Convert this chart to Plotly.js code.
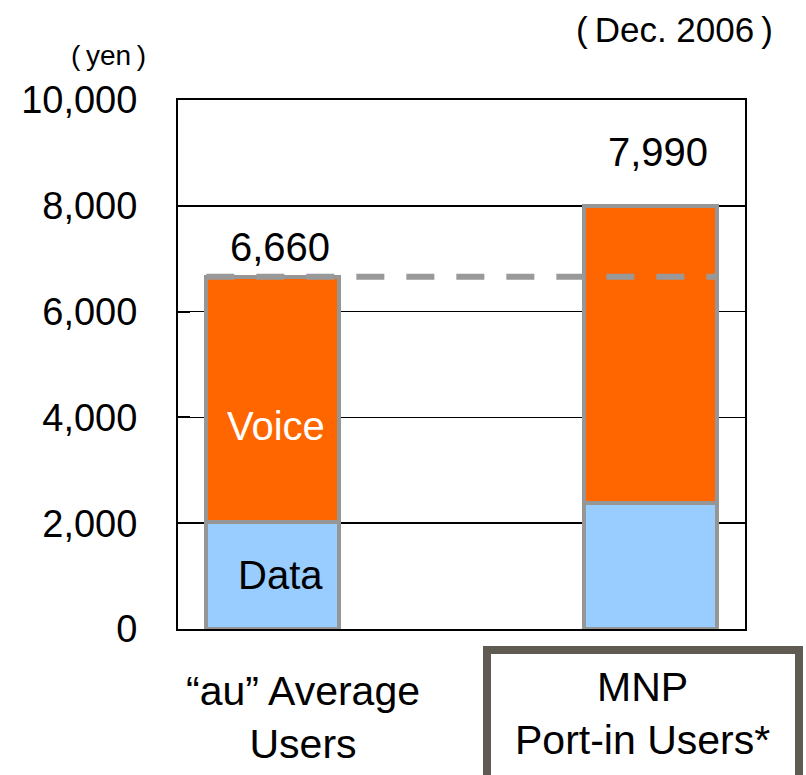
<!DOCTYPE html>
<html>
<head>
<meta charset="utf-8">
<script src="https://cdn.plot.ly/plotly-3.0.1.min.js"></script>
<style>
html,body{margin:0;padding:0;background:#fff;}
#chart{width:806px;height:775px;}
</style>
</head>
<body>
<div id="chart"></div>
<script>
// ---- data ----
const categories = ["\u201Cau\u201D Average<br>Users", "MNP<br>Port-in Users*"];
const dataValues = [2030, 2380];
const voiceValues = [4630, 5610];
const totalLabels = ["6,660", "7,990"];
const yTickVals = [0, 2000, 4000, 6000, 8000, 10000];
const yTickText = ["0", "2,000", "4,000", "6,000", "8,000", "10,000"];

// ---- layout geometry ----
const W = 806, H = 775;
const M = {l: 178, r: 61, t: 100, b: 146};
const PW = W - M.l - M.r, PH = H - M.t - M.b;
const px2x = p => (p - M.l) / PW;
const py2y = p => (H - M.b - p) / PH;

const FONT = "Liberation Sans, Arial, sans-serif";
const barWidth = 0.35;
const xs = categories.map((c, i) => i);
const totals = dataValues.map((d, i) => d + voiceValues[i]);

const barLine = {color: "#969696", width: 4};

const traces = [
  {type: "bar", x: xs, y: dataValues, width: barWidth,
   marker: {color: "#99CCFF", line: barLine}, hoverinfo: "skip"},
  {type: "bar", x: xs, y: voiceValues, width: barWidth,
   marker: {color: "#FF6600", line: barLine}, hoverinfo: "skip"},
  {type: "scatter", mode: "lines",
   x: [xs[0] - barWidth / 2, xs[1] + barWidth / 2],
   y: [totals[0], totals[0]],
   line: {color: "#999999", width: 6, dash: "28px,22px"}, hoverinfo: "skip"}
];

const labelShift = [6, 30];
const annotations = [];
totalLabels.forEach((t, i) => {
  annotations.push({x: xs[i] + 0.02, y: totals[i], xref: "x", yref: "y", text: t,
    showarrow: false, yanchor: "bottom", xanchor: "center", yshift: labelShift[i],
    font: {family: FONT, size: 40, color: "#000"}});
});
annotations.push({x: xs[0] + 0.01, y: dataValues[0] + voiceValues[0] * 0.39, xref: "x", yref: "y",
  text: "Voice", showarrow: false, xanchor: "center", yanchor: "middle",
  font: {family: FONT, size: 40, color: "#fff"}});
annotations.push({x: xs[0] + 0.02, y: dataValues[0] / 2, xref: "x", yref: "y",
  text: "Data", showarrow: false, xanchor: "center", yanchor: "middle",
  font: {family: FONT, size: 40, color: "#000"}});
// category labels
annotations.push({x: px2x(303), y: py2y(717), xref: "paper", yref: "paper",
  text: categories[0], showarrow: false, xanchor: "center", yanchor: "middle",
  font: {family: FONT, size: 41, color: "#000"}});
annotations.push({x: px2x(642), y: py2y(713), xref: "paper", yref: "paper",
  text: categories[1], showarrow: false, xanchor: "center", yanchor: "middle",
  font: {family: FONT, size: 41, color: "#000"}});
// unit & date
annotations.push({x: px2x(108), y: py2y(55), xref: "paper", yref: "paper",
  text: "(\u2009yen\u2009)", showarrow: false, xanchor: "center", yanchor: "middle",
  font: {family: FONT, size: 28, color: "#000"}});
annotations.push({x: px2x(674), y: py2y(29), xref: "paper", yref: "paper",
  text: "(\u2009Dec. 2006\u2009)", showarrow: false, xanchor: "center", yanchor: "middle",
  font: {family: FONT, size: 35, color: "#000"}});

const shapes = [
  {type: "rect", xref: "paper", yref: "paper",
   x0: px2x(487), x1: px2x(799), y0: py2y(650), y1: py2y(810),
   line: {color: "#5F5A52", width: 8}, fillcolor: "rgba(0,0,0,0)"}
];

const layout = {
  width: W, height: H,
  margin: M,
  barmode: "stack",
  showlegend: false,
  plot_bgcolor: "#fff", paper_bgcolor: "#fff",
  xaxis: {range: [-0.25, 1.25], showticklabels: false, showgrid: false, zeroline: false,
    showline: true, mirror: true, linecolor: "#000", linewidth: 2, ticks: ""},
  yaxis: {range: [0, 10000], tickvals: yTickVals, ticktext: yTickText,
    showgrid: true, gridcolor: "#000", gridwidth: 1.5, zeroline: false,
    showline: true, mirror: true, linecolor: "#000", linewidth: 2,
    ticks: "inside", ticklen: 12, tickwidth: 2, tickcolor: "#000", ticklabelstandoff: 31,
    tickfont: {family: FONT, size: 38, color: "#000"}},
  annotations: annotations,
  shapes: shapes
};

Plotly.newPlot("chart", traces, layout, {staticPlot: true, displayModeBar: false});
</script>
</body>
</html>
